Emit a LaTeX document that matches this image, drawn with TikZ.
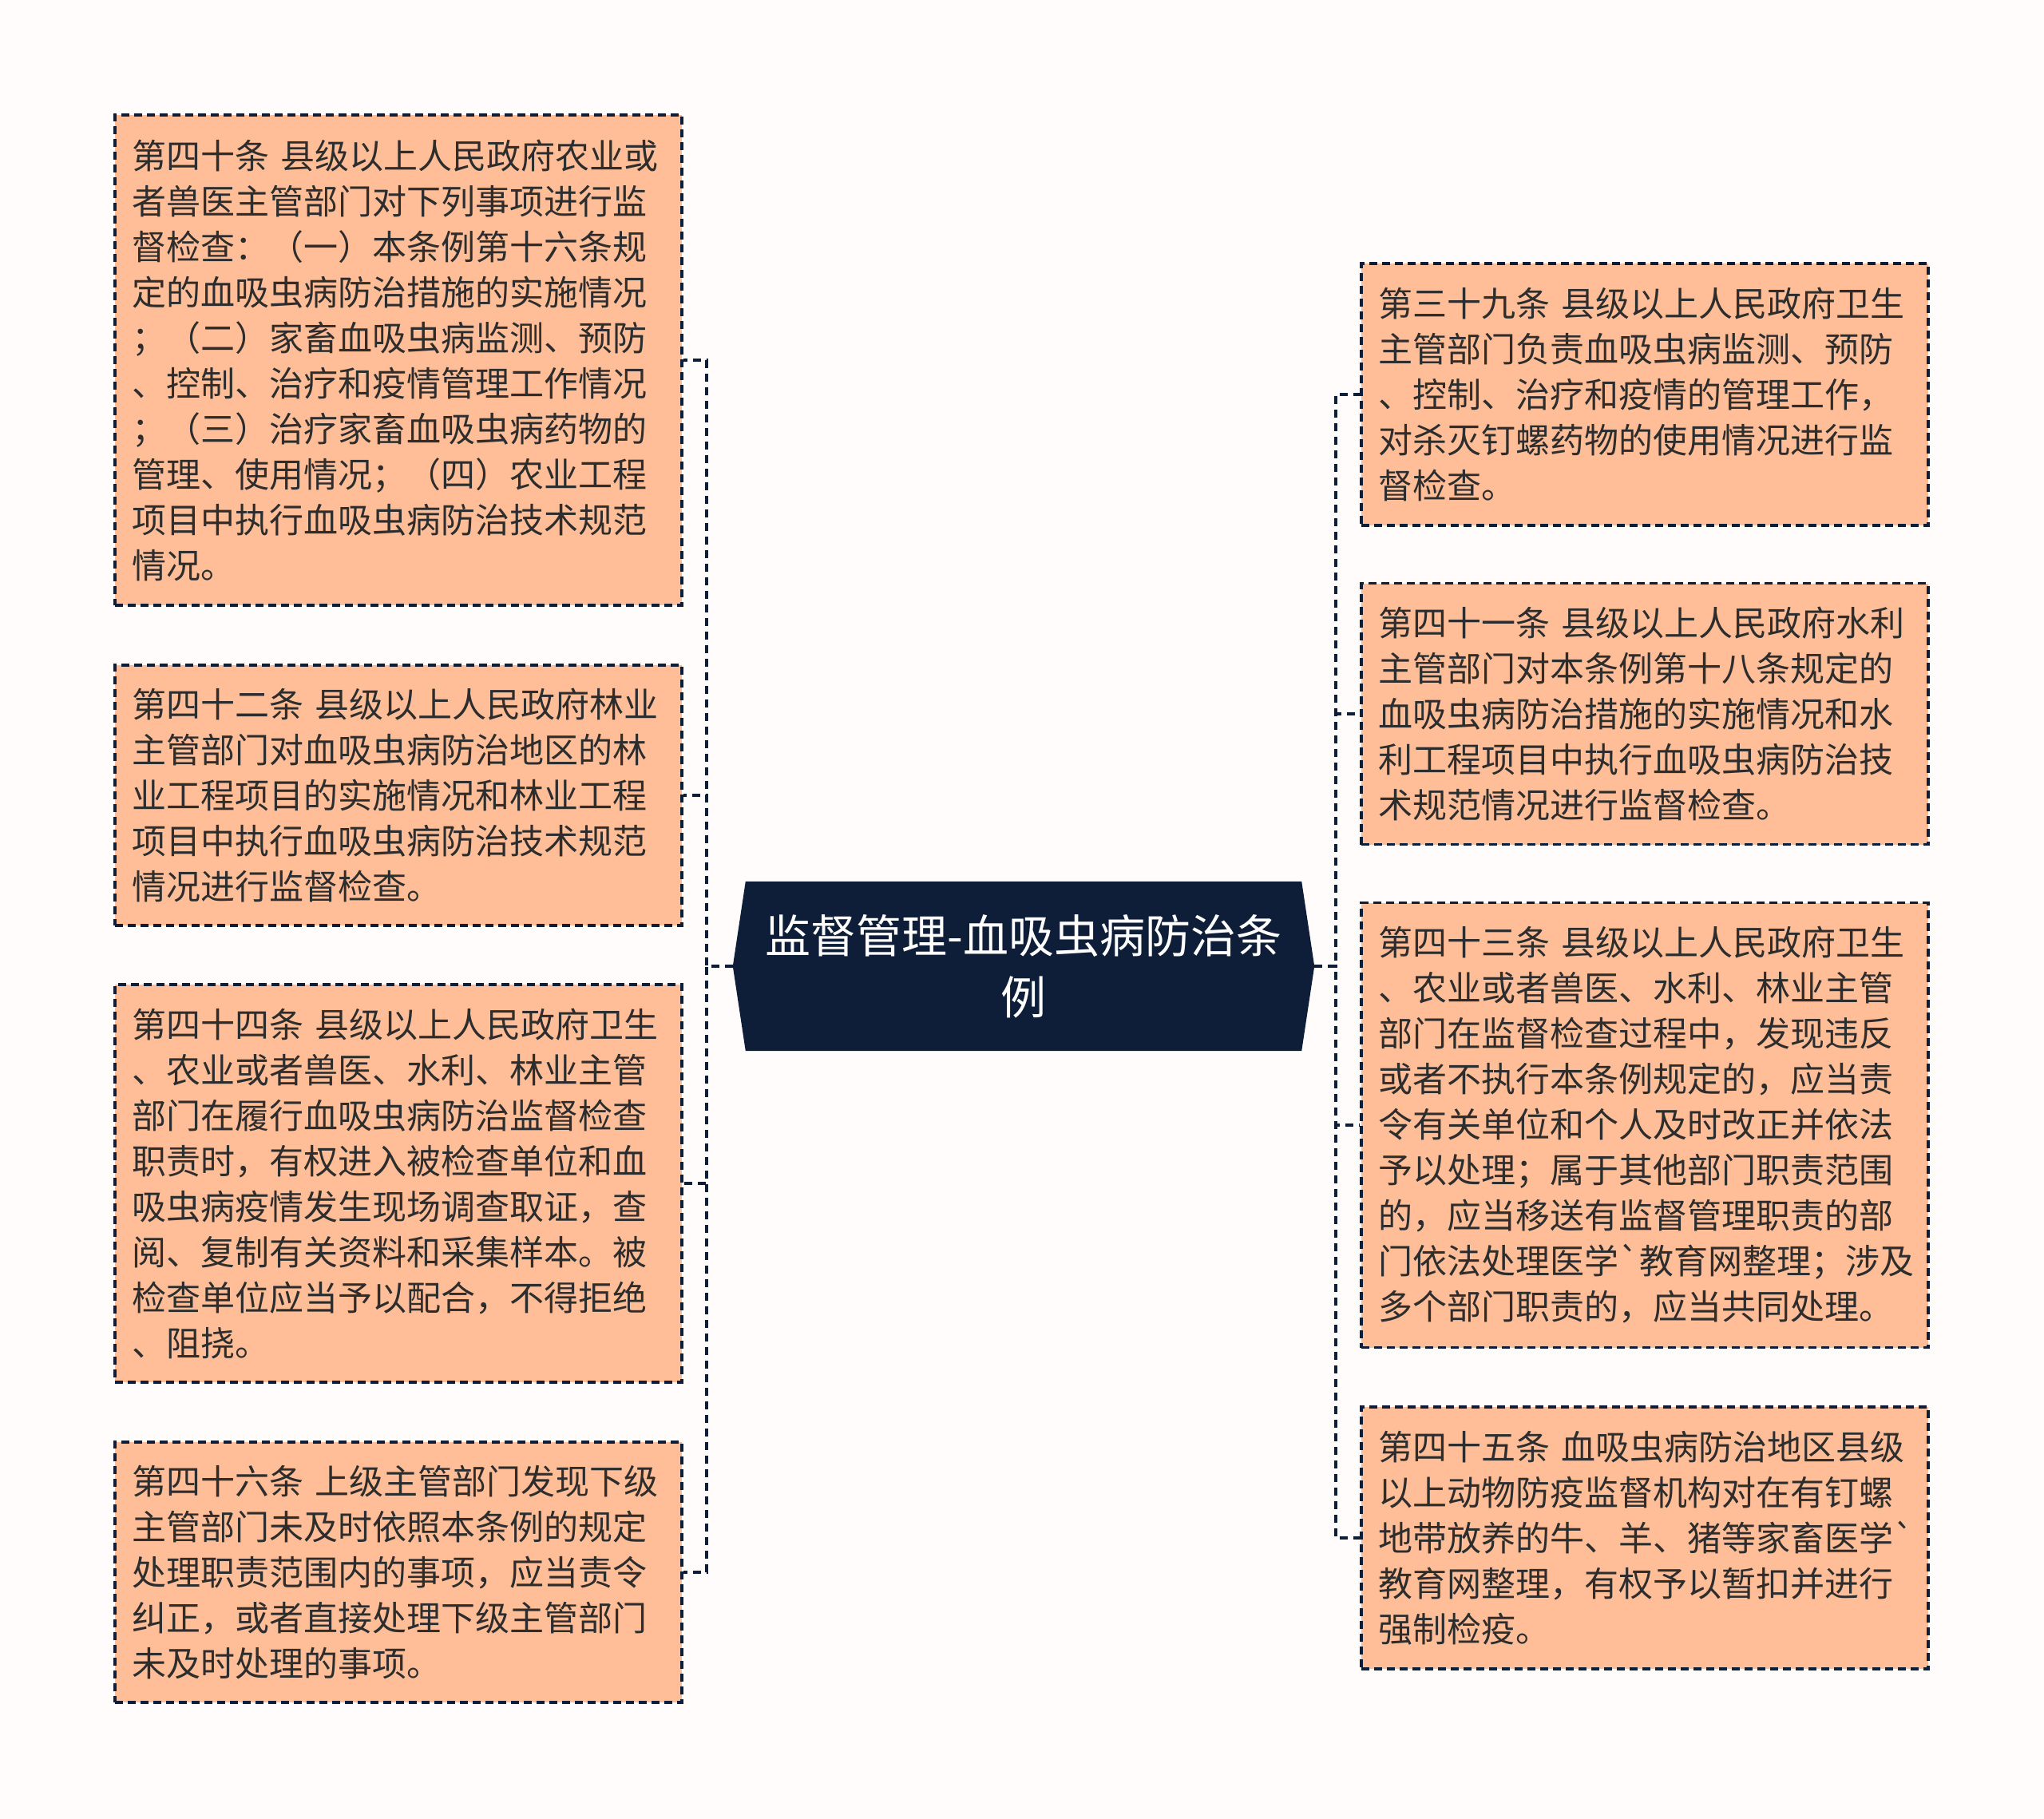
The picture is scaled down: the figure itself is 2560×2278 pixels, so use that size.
\documentclass[tikz,border=0pt]{standalone}
\usepackage{fontspec}
\newfontfamily\cjkfont{Noto Sans CJK SC}
\usetikzlibrary{backgrounds}
\definecolor{bgc}{RGB}{255,252,251}
\definecolor{boxfill}{RGB}{255,190,152}
\definecolor{navy}{RGB}{14,30,56}
\definecolor{txt}{RGB}{45,45,45}
\begin{document}
\begin{tikzpicture}[x=1pt,y=-1pt]
\tikzset{
  leaf/.style={draw=navy, line width=3.2pt, dash pattern=on 10pt off 6pt, fill=boxfill,
    text=txt, font=\cjkfont\fontsize{43}{57}\selectfont, align=left,
    text width=668pt, inner xsep=21pt, inner ysep=0pt, minimum width=710pt},
  conn/.style={draw=navy, line width=4pt, dash pattern=on 10pt off 7pt},
  roottext/.style={text=white, font=\cjkfont\fontsize{57}{77}\selectfont, align=center,
    minimum width=728pt, minimum height=212pt, inner sep=0pt}
}
\useasboundingbox (0,0) rectangle (2560,2278);

% root
\node[roottext] (root) at (1282,1210) {监督管理-血吸虫病防治条\\例};

% left boxes
\node[leaf, minimum height=614pt] (L1) at (499,451) {第四十条 县级以上人民政府农业或\\者兽医主管部门对下列事项进行监\\督检查：（一）本条例第十六条规\\定的血吸虫病防治措施的实施情况\\；（二）家畜血吸虫病监测、预防\\、控制、治疗和疫情管理工作情况\\；（三）治疗家畜血吸虫病药物的\\管理、使用情况；（四）农业工程\\项目中执行血吸虫病防治技术规范\\情况。};
\node[leaf, minimum height=326pt] (L2) at (499,996) {第四十二条 县级以上人民政府林业\\主管部门对血吸虫病防治地区的林\\业工程项目的实施情况和林业工程\\项目中执行血吸虫病防治技术规范\\情况进行监督检查。};
\node[leaf, minimum height=498pt] (L3) at (499,1482) {第四十四条 县级以上人民政府卫生\\、农业或者兽医、水利、林业主管\\部门在履行血吸虫病防治监督检查\\职责时，有权进入被检查单位和血\\吸虫病疫情发生现场调查取证，查\\阅、复制有关资料和采集样本。被\\检查单位应当予以配合，不得拒绝\\、阻挠。};
\node[leaf, minimum height=326pt] (L4) at (499,1969) {第四十六条 上级主管部门发现下级\\主管部门未及时依照本条例的规定\\处理职责范围内的事项，应当责令\\纠正，或者直接处理下级主管部门\\未及时处理的事项。};

% right boxes
\node[leaf, minimum height=328pt] (R1) at (2060,494) {第三十九条 县级以上人民政府卫生\\主管部门负责血吸虫病监测、预防\\、控制、治疗和疫情的管理工作，\\对杀灭钉螺药物的使用情况进行监\\督检查。};
\node[leaf, minimum height=327pt] (R2) at (2060,894) {第四十一条 县级以上人民政府水利\\主管部门对本条例第十八条规定的\\血吸虫病防治措施的实施情况和水\\利工程项目中执行血吸虫病防治技\\术规范情况进行监督检查。};
\node[leaf, minimum height=557pt] (R3) at (2060,1409) {第四十三条 县级以上人民政府卫生\\、农业或者兽医、水利、林业主管\\部门在监督检查过程中，发现违反\\或者不执行本条例规定的，应当责\\令有关单位和个人及时改正并依法\\予以处理；属于其他部门职责范围\\的，应当移送有监督管理职责的部\\门依法处理医学`教育网整理；涉及\\多个部门职责的，应当共同处理。};
\node[leaf, minimum height=328pt] (R4) at (2060,1926) {第四十五条 血吸虫病防治地区县级\\以上动物防疫监督机构对在有钉螺\\地带放养的牛、羊、猪等家畜医学`\\教育网整理，有权予以暂扣并进行\\强制检疫。};

% background and root shape
\begin{scope}[on background layer]
  \fill[bgc] (0,0) rectangle (2560,2278);
  \fill[navy] ([xshift=16pt]root.north west) -- ([xshift=-16pt]root.north east) -- (root.east)
    -- ([xshift=-16pt]root.south east) -- ([xshift=16pt]root.south west) -- (root.west) -- cycle;
\end{scope}

% connectors
\foreach \n in {L1,L2,L3,L4}{
  \draw[conn] (root.west) -- ++(-33,0) |- (\n.east);
}
\foreach \n in {R1,R2,R3,R4}{
  \draw[conn] (root.east) -- ++(27,0) |- (\n.west);
}
\end{tikzpicture}
\end{document}
